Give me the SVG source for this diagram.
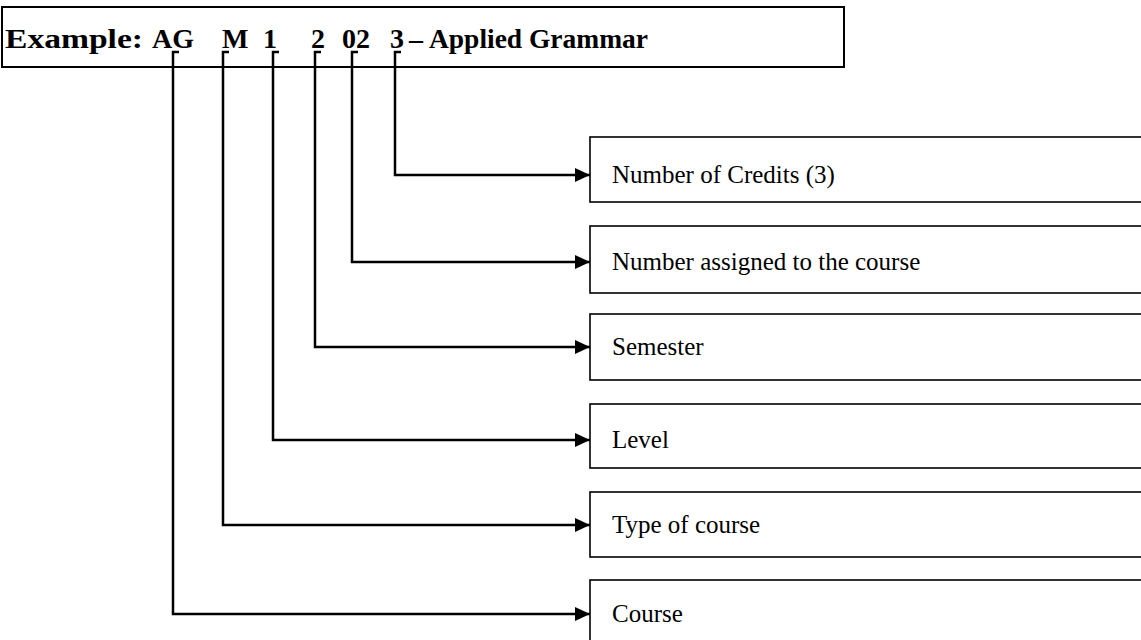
<svg xmlns="http://www.w3.org/2000/svg" width="1141" height="640" viewBox="0 0 1141 640">
  <style>
    .box { fill: #fff; stroke: #000; stroke-width: 1.6; }
    .top { fill: #fff; stroke: #000; stroke-width: 2; }
    .lbl { font-family: "Liberation Serif", "Times New Roman", serif; font-size: 25px; fill: #000; }
    .title { font-family: "Liberation Serif", "Times New Roman", serif; font-size: 28px; font-weight: bold; fill: #000; }
    .conn { fill: none; stroke: #000; stroke-width: 2.5; }
  </style>
  <defs>
    <marker id="arrow" markerUnits="userSpaceOnUse" markerWidth="16" markerHeight="14" refX="15" refY="7" orient="auto">
      <path d="M0,0 L15,7 L0,14 Z" fill="#000"/>
    </marker>
  </defs>
  <rect width="1141" height="640" fill="#fff"/>

  <g id="code">
    <rect class="top" x="2" y="7" width="842" height="60"/>
    <text class="title" y="48"><tspan x="5" textLength="138" lengthAdjust="spacingAndGlyphs">Example:</tspan><tspan x="152">AG</tspan><tspan x="222">M</tspan><tspan x="263">1</tspan><tspan x="311">2</tspan><tspan x="342">02</tspan><tspan x="390">3</tspan><tspan x="409">–</tspan><tspan x="429" textLength="219" lengthAdjust="spacingAndGlyphs">Applied Grammar</tspan></text>
  </g>

  <g id="credits">
    <rect class="box" x="590" y="137" width="560" height="65"/>
    <text class="lbl" x="612" y="183">Number of Credits (3)</text>
  </g>
  <g id="number">
    <rect class="box" x="590" y="226" width="560" height="67"/>
    <text class="lbl" x="612" y="270">Number assigned to the course</text>
  </g>
  <g id="semester">
    <rect class="box" x="590" y="314" width="560" height="66"/>
    <text class="lbl" x="612" y="355">Semester</text>
  </g>
  <g id="level">
    <rect class="box" x="590" y="404" width="560" height="64"/>
    <text class="lbl" x="612" y="448">Level</text>
  </g>
  <g id="type">
    <rect class="box" x="590" y="492" width="560" height="65"/>
    <text class="lbl" x="612" y="533">Type of course</text>
  </g>
  <g id="course">
    <rect class="box" x="590" y="580" width="560" height="70"/>
    <text class="lbl" x="612" y="622">Course</text>
  </g>

  <g id="connectors">
    <path class="conn" marker-end="url(#arrow)" d="M401,52 H395 V175 H590"/>
    <path class="conn" marker-end="url(#arrow)" d="M358,52 H352 V262 H590"/>
    <path class="conn" marker-end="url(#arrow)" d="M321,52 H315 V347 H590"/>
    <path class="conn" marker-end="url(#arrow)" d="M279,52 H273 V440 H590"/>
    <path class="conn" marker-end="url(#arrow)" d="M229,52 H223 V525 H590"/>
    <path class="conn" marker-end="url(#arrow)" d="M179,52 H173 V614 H590"/>
  </g>
</svg>
